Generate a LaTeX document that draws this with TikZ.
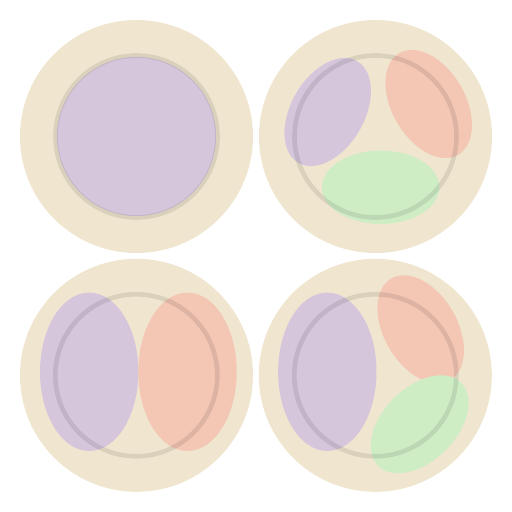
\documentclass[tikz,border=0pt]{standalone}
\definecolor{beige}{RGB}{240,230,208}
\definecolor{purp}{RGB}{213,198,219}
\definecolor{orng}{RGB}{244,198,180}
\definecolor{grn}{RGB}{207,237,197}
\tikzset{
  disc/.style={fill=beige},
  ring/.style={draw=black, draw opacity=0.09, line width=4.6pt},
}
\begin{document}
\begin{tikzpicture}[x=1pt,y=1pt]
\useasboundingbox (0,0) rectangle (512,512);
% top-left
\fill[disc] (136.5,375.5) circle [radius=116.5pt];
\fill[purp] (136.5,375.5) circle [radius=79.5pt];
\draw[ring] (136.5,375.5) circle [radius=81pt];
% top-right
\fill[disc] (375.5,375.5) circle [radius=116.5pt];
\fill[purp, rotate around={60:(327.7,400)}] (327.7,400) ellipse [x radius=58.7pt, y radius=36.7pt];
\fill[orng, rotate around={-60:(428.7,408)}] (428.7,408) ellipse [x radius=58.7pt, y radius=36.7pt];
\fill[grn] (380.7,324.7) ellipse [x radius=58.7pt, y radius=36.7pt];
\draw[ring] (375.5,375.5) circle [radius=81pt];
% bottom-left
\fill[disc] (136.5,136.7) circle [radius=116.5pt];
\fill[purp] (89.2,140.2) ellipse [x radius=49.2pt, y radius=79.2pt];
\fill[orng] (187.5,140.2) ellipse [x radius=49.2pt, y radius=79.2pt];
\draw[ring] (136.3,136.7) circle [radius=81pt];
% bottom-right
\fill[disc] (375.3,136.7) circle [radius=116.5pt];
\fill[purp] (327.3,140.2) ellipse [x radius=49.2pt, y radius=79.2pt];
\fill[orng, rotate around={-60:(420.7,182.7)}] (420.7,182.7) ellipse [x radius=58.7pt, y radius=36.7pt];
\fill[grn, rotate around={45:(419.7,87.7)}] (419.7,87.7) ellipse [x radius=58.7pt, y radius=36.7pt];
\draw[ring] (375.3,136.7) circle [radius=81pt];
\end{tikzpicture}
\end{document}
